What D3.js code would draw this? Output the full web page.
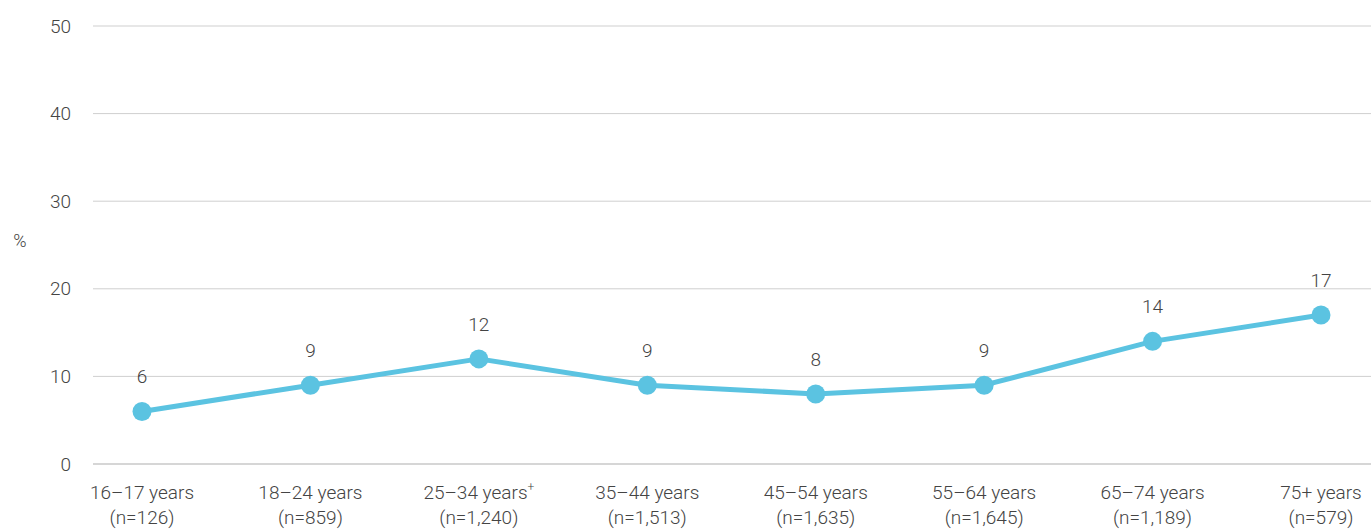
<!DOCTYPE html>
<html><head><meta charset="utf-8">
<script src="https://cdn.jsdelivr.net/npm/d3@7"></script>
<style>body{margin:0;background:#fff}svg{display:block;font-family:Roboto,"DejaVu Sans",sans-serif}</style>
</head><body><svg id="c" width="1371" height="529"></svg>
<script>
const categories = ["16–17 years","18–24 years","25–34 years","35–44 years","45–54 years","55–64 years","65–74 years","75+ years"];
const sampleSizes = ["(n=126)","(n=859)","(n=1,240)","(n=1,513)","(n=1,635)","(n=1,645)","(n=1,189)","(n=579)"];
const superscripts = ["","","+","","","","",""];
const values = [6,9,12,9,8,9,14,17];
const yTicks = [0,10,20,30,40,50];

const svg = d3.select("#c");
const x = d3.scalePoint().domain(categories).range([142,1321]);
const y = d3.scaleLinear().domain([0,50]).range([464,26]);
const textColor = "#444";
const lineColor = "#5bc3e1";

// grid
svg.append("g").selectAll("line").data(yTicks).join("line")
  .attr("x1",93).attr("x2",1371)
  .attr("y1",d=>y(d)).attr("y2",d=>y(d))
  .attr("stroke",d=>d===0?"#c8c8c8":"#cfcfcf").attr("stroke-width",d=>d===0?1.5:1);

// y axis labels
const yAxis = svg.append("g").attr("transform","translate(71,0)")
  .call(d3.axisLeft(y).tickValues(yTicks).tickSize(0).tickPadding(0));
yAxis.select(".domain").remove();
yAxis.selectAll("text").attr("font-size",19).attr("fill",textColor).attr("font-family","Roboto, sans-serif").attr("font-weight",300);

svg.append("text").attr("x",20).attr("y",247).attr("text-anchor","middle")
  .attr("font-size",18).attr("fill",textColor).attr("font-weight",300).text("%");

// x labels
const xl = svg.append("g").selectAll("text").data(categories).join("text")
  .attr("x",d=>x(d)).attr("y",499).attr("text-anchor","middle")
  .attr("font-size",19).attr("fill",textColor).attr("font-weight",300);
xl.append("tspan").text(d=>d);
xl.append("tspan").attr("dy",-8).attr("font-size",12).text((d,i)=>superscripts[i]);
svg.append("g").selectAll("text").data(categories).join("text")
  .attr("x",d=>x(d)).attr("y",524).attr("text-anchor","middle")
  .attr("font-size",19).attr("fill",textColor).attr("font-weight",300)
  .text((d,i)=>sampleSizes[i]);

// line
const pts = categories.map((c,i)=>({c,v:values[i]}));
svg.append("path").datum(pts)
  .attr("d",d3.line().x(d=>x(d.c)).y(d=>y(d.v)))
  .attr("fill","none").attr("stroke",lineColor).attr("stroke-width",5).attr("stroke-linejoin","round");
svg.append("g").selectAll("circle").data(pts).join("circle")
  .attr("cx",d=>x(d.c)).attr("cy",d=>y(d.v)).attr("r",9.5).attr("fill",lineColor);

// value labels
svg.append("g").selectAll("text").data(pts).join("text")
  .attr("x",d=>x(d.c)).attr("y",d=>y(d.v)-28).attr("text-anchor","middle")
  .attr("font-size",19).attr("fill",textColor).attr("font-weight",300)
  .text(d=>d.v);
</script></body></html>
